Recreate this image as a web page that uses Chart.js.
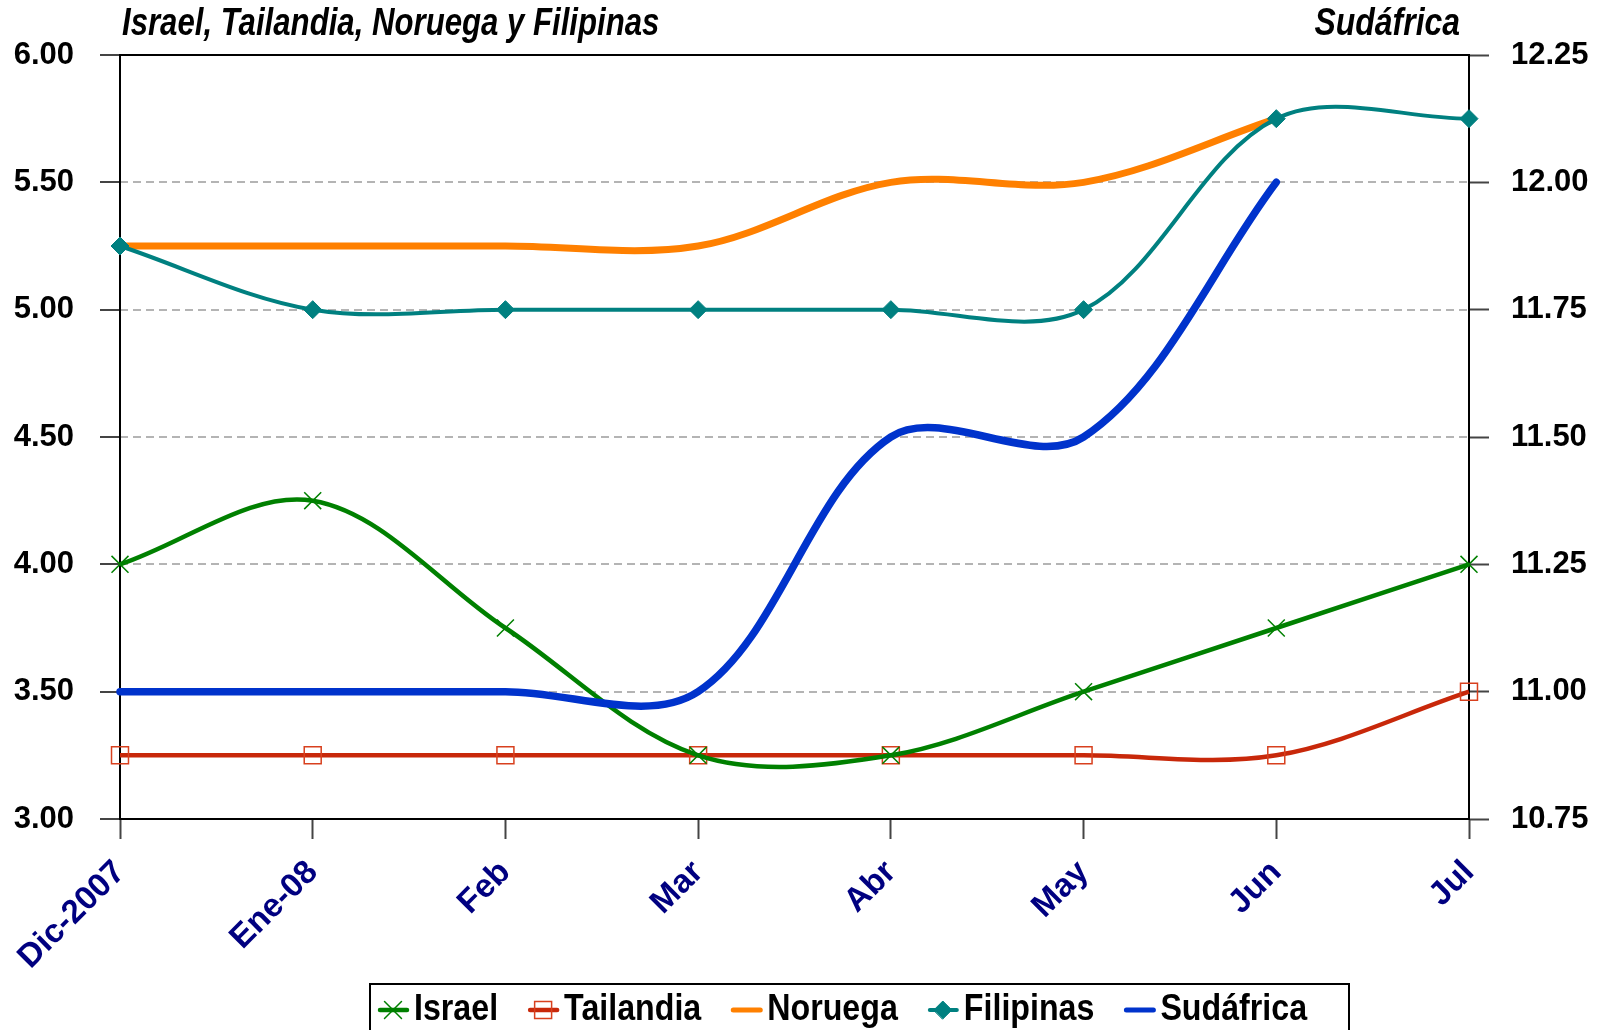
<!DOCTYPE html>
<html>
<head>
<meta charset="utf-8">
<script src="https://cdn.jsdelivr.net/npm/chart.js@4.4.0/dist/chart.umd.min.js"></script>
<style>
  html, body { margin: 0; padding: 0; background: #fff; }
  canvas { display: block; }
</style>
</head>
<body>
<canvas id="rates" width="1602" height="1030"></canvas>
<script>
const months = ['Dic-2007', 'Ene-08', 'Feb', 'Mar', 'Abr', 'May', 'Jun', 'Jul'];
const israel = [4.00, 4.25, 3.75, 3.25, 3.25, 3.50, 3.75, 4.00];
const tailandia = [3.25, 3.25, 3.25, 3.25, 3.25, 3.25, 3.25, 3.50];
const noruega = [5.25, 5.25, 5.25, 5.25, 5.50, 5.50, 5.75, null];
const filipinas = [5.25, 5.00, 5.00, 5.00, 5.00, 5.00, 5.75, 5.75];
const sudafrica = [11.00, 11.00, 11.00, 11.00, 11.50, 11.50, 12.00, null];

const leftTitle = 'Israel, Tailandia, Noruega y Filipinas';
const rightTitle = 'Sudáfrica';

const sans = "'Liberation Sans', Arial, sans-serif";

// no narrow face installed, so squeeze titles / legend text
function narrowText(ctx, text, x, y, align, sx) {
    ctx.save();
    ctx.translate(x, y);
    ctx.scale(sx, 1);
    ctx.textAlign = align;
    ctx.fillText(text, 0, 0);
    ctx.restore();
    return ctx.measureText(text).width * sx;
}

// frame, titles and the boxed legend
const decor = {
    id: 'decor',
    beforeDatasetsDraw(chart) {
        const { ctx, chartArea: a } = chart;
        ctx.save();
        ctx.strokeStyle = '#000';
        ctx.lineWidth = 2;
        ctx.strokeRect(a.left, a.top, a.right - a.left, a.bottom - a.top);
        ctx.restore();
    },
    afterDraw(chart) {
        const { ctx, chartArea: a } = chart;
        ctx.save();
        ctx.fillStyle = '#000';
        ctx.font = 'italic bold 38px ' + sans;
        ctx.textBaseline = 'middle';
        narrowText(ctx, leftTitle, a.left + 2, 25, 'left', 0.82);
        narrowText(ctx, rightTitle, a.right - 9, 25, 'right', 0.84);

        // legend
        ctx.lineWidth = 2;
        ctx.strokeStyle = '#000';
        ctx.strokeRect(370, 984, 979, 80);
        ctx.font = 'bold 37px ' + sans;
        let x = 378;
        const y = 1010;
        chart.data.datasets.forEach(ds => {
            ctx.strokeStyle = ds.borderColor;
            ctx.lineWidth = Math.min(ds.borderWidth, 5);
            ctx.lineCap = 'round';
            ctx.beginPath();
            ctx.moveTo(x + 2, y);
            ctx.lineTo(x + 29, y);
            ctx.stroke();
            if (ds.pointRadius > 0) {
                ctx.fillStyle = ds.pointBackgroundColor;
                ctx.strokeStyle = ds.pointBorderColor;
                ctx.lineWidth = ds.pointBorderWidth;
                Chart.helpers.drawPoint(ctx, {
                    pointStyle: ds.pointStyle, radius: ds.pointRadius,
                    rotation: 0, borderWidth: ds.pointBorderWidth
                }, x + 15, y);
            }
            ctx.fillStyle = '#000';
            const w = narrowText(ctx, ds.label, x + 36, y, 'left', 0.87);
            x += 36 + w + 30;
        });
        ctx.restore();
    }
};

const tickText = v => Number(v).toFixed(2);

new Chart(document.getElementById('rates'), {
    type: 'line',
    data: {
        labels: months,
        datasets: [{
            label: 'Israel',
            data: israel,
            yAxisID: 'y',
            borderColor: '#008000',
            borderWidth: 4.5,
            pointStyle: 'crossRot',
            pointRadius: 12,
            pointBorderColor: '#008000',
            pointBackgroundColor: '#008000',
            pointBorderWidth: 1.5,
            order: 1,
        }, {
            label: 'Tailandia',
            data: tailandia,
            yAxisID: 'y',
            borderColor: '#C8280A',
            borderWidth: 4.5,
            pointStyle: 'rect',
            pointRadius: 12,
            pointBorderColor: '#D8401E',
            pointBackgroundColor: 'rgba(255,255,255,0)',
            pointBorderWidth: 1.5,
            order: 4,
        }, {
            label: 'Noruega',
            data: noruega,
            yAxisID: 'y',
            borderColor: '#FF8000',
            borderWidth: 7,
            pointRadius: 0,
            borderCapStyle: 'round',
            order: 3,
        }, {
            label: 'Filipinas',
            data: filipinas,
            yAxisID: 'y',
            borderColor: '#008080',
            borderWidth: 4,
            pointStyle: 'rectRot',
            pointRadius: 9,
            pointBorderColor: '#008080',
            pointBackgroundColor: '#008080',
            pointBorderWidth: 1,
            order: 2,
        }, {
            label: 'Sudáfrica',
            data: sudafrica,
            yAxisID: 'y1',
            borderColor: '#0033CC',
            borderWidth: 7.5,
            pointRadius: 0,
            borderCapStyle: 'round',
            order: 0,
        }]
    },
    options: {
        responsive: false,
        animation: false,
        devicePixelRatio: 1,
        layout: { padding: { top: 55, left: 0, right: 0, bottom: 0 } },
        elements: { line: { tension: 0.34 } },
        datasets: { line: { clip: 30 } },
        plugins: {
            legend: { display: false },
            tooltip: { enabled: false },
        },
        scales: {
            x: {
                offset: false,
                afterFit: s => { s.height = 211; },
                border: { display: false },
                grid: {
                    drawOnChartArea: false,
                    tickLength: 20,
                    tickColor: '#444',
                    tickWidth: 2,
                },
                ticks: {
                    autoSkip: false,
                    minRotation: 45,
                    maxRotation: 45,
                    padding: 14,
                    color: '#000080',
                    font: { family: sans, size: 33, weight: 'bold' },
                }
            },
            y: {
                position: 'left',
                min: 3,
                max: 6,
                afterFit: s => { s.width = 120; },
                border: { display: false, dash: [8, 5] },
                grid: {
                    color: c => (c.tick && (c.tick.value === 3 || c.tick.value === 6)) ? 'rgba(0,0,0,0)' : '#B4B4B4',
                    lineWidth: 2,
                    tickLength: 20,
                    tickColor: '#444',
                    tickWidth: 2,
                },
                ticks: {
                    stepSize: 0.5,
                    padding: 26,
                    color: '#000',
                    callback: tickText,
                    font: { family: sans, size: 31, weight: 'bold' },
                }
            },
            y1: {
                position: 'right',
                min: 10.75,
                max: 12.25,
                afterFit: s => { s.width = 133; },
                border: { display: false },
                grid: {
                    drawOnChartArea: false,
                    tickLength: 20,
                    tickColor: '#444',
                    tickWidth: 2,
                },
                ticks: {
                    stepSize: 0.25,
                    padding: 22,
                    color: '#000',
                    callback: tickText,
                    font: { family: sans, size: 31, weight: 'bold' },
                }
            }
        }
    },
    plugins: [decor]
});
</script>
</body>
</html>
